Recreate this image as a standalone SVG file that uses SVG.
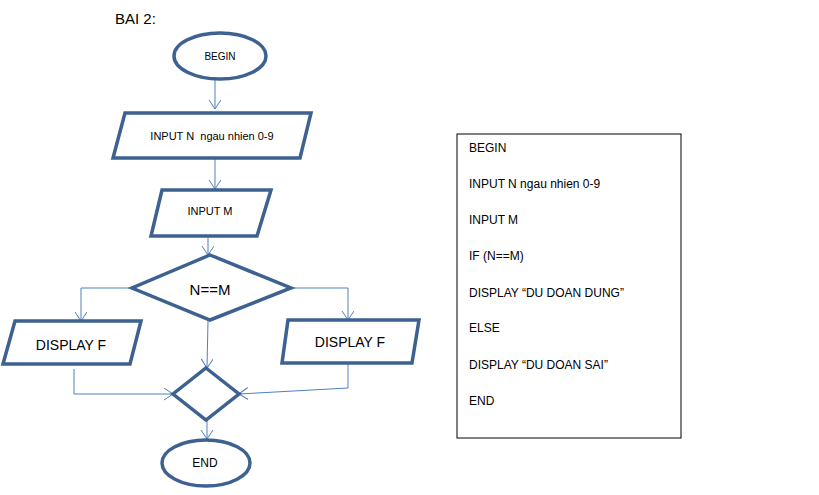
<svg xmlns="http://www.w3.org/2000/svg" width="819" height="495" viewBox="0 0 819 495">
<style>
.shape{fill:#fff;stroke:#3d6190;stroke-width:3.5;stroke-linejoin:miter}
.conn{fill:none;stroke:#4f81bd;stroke-width:1}
.t{font-family:"Liberation Sans",Arial,sans-serif;fill:#000}
</style>
<defs>
<marker id="arr" markerUnits="userSpaceOnUse" markerWidth="14" markerHeight="14" refX="10" refY="6" orient="auto">
<path d="M1,0 L10,6 L1,12" fill="none" stroke="#4f81bd" stroke-width="1"/>
</marker>
</defs>
<rect width="819" height="495" fill="#fff"/>
<text class="t" x="115" y="24" font-size="15">BAI 2:</text>
<g id="connectors">
<line class="conn" x1="215" y1="80" x2="215" y2="109" marker-end="url(#arr)"/>
<line class="conn" x1="215" y1="159" x2="215" y2="189" marker-end="url(#arr)"/>
<line class="conn" x1="208" y1="236" x2="208" y2="255" marker-end="url(#arr)"/>
<polyline class="conn" points="132,288 81,288 81,321" marker-end="url(#arr)"/>
<polyline class="conn" points="291,288 348,288 348,320" marker-end="url(#arr)"/>
<line class="conn" x1="208" y1="321" x2="207" y2="368" marker-end="url(#arr)"/>
<polyline class="conn" points="74,369 74,394 173,394" marker-end="url(#arr)"/>
<polyline class="conn" points="348,363 348,388 239,394" marker-end="url(#arr)"/>
<line class="conn" x1="207" y1="420" x2="207" y2="439" marker-end="url(#arr)"/>
</g>
<g id="begin">
<ellipse class="shape" cx="220" cy="56" rx="46" ry="23"/>
<text class="t" x="220" y="60" font-size="10" text-anchor="middle">BEGIN</text>
</g>
<g id="inputN">
<polygon class="shape" points="125,113 311,113 300,158 113,158"/>
<text class="t" x="212" y="140" font-size="11" text-anchor="middle" xml:space="preserve">INPUT N  ngau nhien 0-9</text>
</g>
<g id="inputM">
<polygon class="shape" points="162,190 271,190 257,236 151,236"/>
<text class="t" x="210" y="215" font-size="11" text-anchor="middle">INPUT M</text>
</g>
<g id="decision">
<polygon class="shape" points="210,255 291,288 210,320 132,288"/>
<text class="t" x="210" y="295" font-size="15" text-anchor="middle">N==M</text>
</g>
<g id="displayLeft">
<polygon class="shape" points="15,321 141,321 130,364 3,364"/>
<text class="t" x="71" y="350" font-size="14" text-anchor="middle">DISPLAY F</text>
</g>
<g id="displayRight">
<polygon class="shape" points="288,320 419,320 412,363 282,363"/>
<text class="t" x="350" y="347" font-size="14" text-anchor="middle">DISPLAY F</text>
</g>
<g id="merge">
<polygon class="shape" points="206,368 239,394 206,420 173,394"/>
</g>
<g id="end">
<ellipse class="shape" cx="206" cy="463" rx="44" ry="23"/>
<text class="t" x="205" y="467" font-size="12" text-anchor="middle">END</text>
</g>
<g id="pseudocode">
<rect x="457" y="134" width="224" height="304" fill="#fff" stroke="#000" stroke-width="1"/>
<g class="t" font-size="12" xml:space="preserve">
<text x="469" y="152">BEGIN</text>
<text x="469" y="188">INPUT N ngau nhien  0-9</text>
<text x="469" y="224">INPUT M</text>
<text x="469" y="260">IF (N==M)</text>
<text x="469" y="297">DISPLAY “DU DOAN  DUNG”</text>
<text x="469" y="332">ELSE</text>
<text x="469" y="369">DISPLAY “DU DOAN  SAI”</text>
<text x="469" y="405">END</text>
</g>
</g>
</svg>
